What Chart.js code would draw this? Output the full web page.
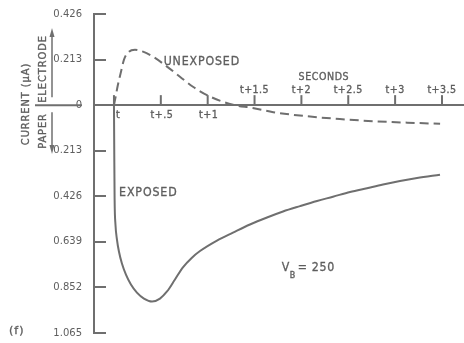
<!DOCTYPE html>
<html>
<head>
<meta charset="utf-8">
<script src="https://cdn.jsdelivr.net/npm/chart.js@4/dist/chart.umd.min.js"></script>
<style>
html,body{margin:0;padding:0;background:#fff;}
#wrap{width:464px;height:343px;position:relative;}
</style>
</head>
<body>
<div id="wrap"><canvas id="c"></canvas></div>
<script>
// ---- data (time in seconds after t, current in microamps; + = electrode, - = paper) ----
const timeUnexposed    = [0, 0.02, 0.04, 0.075, 0.107, 0.16, 0.224, 0.31, 0.416, 0.566, 0.704, 0.843, 1.025, 1.27, 1.48, 1.70, 2.06, 2.41, 2.76, 3.13, 3.48];
const currentUnexposed = [0, 0.044, 0.091, 0.156, 0.213, 0.25, 0.259, 0.25, 0.227, 0.18, 0.133, 0.086, 0.04, 0.002, -0.013, -0.033, -0.052, -0.065, -0.075, -0.082, -0.087];

const timeExposed    = [0, 0.003, 0.007, 0.016, 0.032, 0.053, 0.085, 0.128, 0.181, 0.245, 0.320, 0.406, 0.491, 0.566, 0.651, 0.736, 0.832, 0.918, 1.099, 1.270, 1.451, 1.633, 1.804, 1.985, 2.167, 2.337, 2.519, 2.700, 2.871, 3.052, 3.234, 3.479];
const currentExposed = [0, -0.208, -0.441, -0.558, -0.628, -0.684, -0.740, -0.792, -0.838, -0.876, -0.904, -0.918, -0.904, -0.871, -0.815, -0.758, -0.713, -0.682, -0.633, -0.596, -0.558, -0.525, -0.497, -0.472, -0.448, -0.428, -0.406, -0.388, -0.371, -0.355, -0.341, -0.325];

const yTickValues = [0.426, 0.213, 0, -0.213, -0.426, -0.639, -0.852, -1.065];
const xTickValues = [0, 0.5, 1, 1.5, 2, 2.5, 3, 3.5];
const xTickLabels = ['t', 't+.5', 't+1', 't+1.5', 't+2', 't+2.5', 't+3', 't+3.5'];

const seriesNames = ['UNEXPOSED', 'EXPOSED'];
const axisTitle = 'CURRENT (\u03BCA)';
const upLabel = 'ELECTRODE';
const downLabel = 'PAPER';
const xTitle = 'SECONDS';
const panelLabel = '(f)';

const INK = '#6f6f6f';
const TXT = '#5e5e5e';
const FONT = '"DejaVu Sans", sans-serif';

function pairs(xs, ys){ return xs.map((x,i)=>({x:x, y:ys[i]})); }

// condensed text helper
function ctext(ctx, txt, x, y, size, sx, spacing, align){
  ctx.save();
  ctx.font = size + 'px ' + FONT;
  ctx.letterSpacing = (spacing||0) + 'px';
  ctx.textAlign = align || 'left';
  ctx.textBaseline = 'middle';
  ctx.translate(x, y); ctx.scale(sx, 1);
  ctx.fillText(txt, 0, 0);
  ctx.strokeStyle = TXT; ctx.lineWidth = 0.35;
  ctx.strokeText(txt, 0, 0);
  ctx.restore();
}

const deco = {
  id: 'deco',
  afterDraw(chart){
    const ctx = chart.ctx, xs = chart.scales.x, ys = chart.scales.y;
    const y0 = ys.getPixelForValue(0);
    const ax = chart.chartArea.left;
    ctx.save();
    ctx.strokeStyle = INK; ctx.fillStyle = TXT; ctx.lineWidth = 2; ctx.lineCap = 'butt';
    // y ticks (inside)
    yTickValues.forEach(v=>{
      const p = Math.round(ys.getPixelForValue(v));
      ctx.beginPath(); ctx.moveTo(ax-1, p); ctx.lineTo(ax+12, p); ctx.stroke();
    });
    // x ticks (up)
    xTickValues.forEach(v=>{
      const p = xs.getPixelForValue(v);
      ctx.beginPath(); ctx.moveTo(p, y0); ctx.lineTo(p, y0-10); ctx.stroke();
    });
    // x tick labels
    xTickValues.forEach((v,i)=>{
      const p = xs.getPixelForValue(v);
      if (v < 1.5) {
        if (v === 0) ctext(ctx, xTickLabels[i], p+2, y0+10, 10, 0.95, 0.5, 'left');
        else ctext(ctx, xTickLabels[i], p+1, y0+10, 10, 0.95, 0.5, 'center');
      } else {
        ctext(ctx, xTickLabels[i], p, y0-15, 10, 0.95, 0.5, 'center');
      }
    });
    // SECONDS
    ctext(ctx, xTitle, xs.getPixelForValue(2.24), y0-28, 10, 0.95, 0.6, 'center');
    // series labels
    ctext(ctx, seriesNames[0], xs.getPixelForValue(0.53), ys.getPixelForValue(0.205), 13, 0.85, 1, 'left');
    ctext(ctx, seriesNames[1], xs.getPixelForValue(0.055), ys.getPixelForValue(-0.41), 13, 0.85, 1, 'left');
    // V_B = 250
    const vx = xs.getPixelForValue(1.79), vy = ys.getPixelForValue(-0.76);
    ctext(ctx, 'V', vx, vy, 13, 0.85, 0, 'left');
    ctext(ctx, 'B', vx+8, vy+8, 8, 1, 0, 'left');
    ctext(ctx, '= 250', vx+16, vy, 13, 0.85, 0.8, 'left');
    // panel label
    ctext(ctx, panelLabel, 9, ys.getPixelForValue(-1.058), 11, 1, 1, 'left');
    // separator line at zero level, left side
    ctx.beginPath(); ctx.moveTo(35, y0); ctx.lineTo(82, y0); ctx.stroke();
    // arrows
    ctx.lineWidth = 1.5;
    ctx.fillStyle = INK;
    ctx.beginPath(); ctx.moveTo(52, y0-8); ctx.lineTo(52, 33); ctx.stroke();
    ctx.beginPath(); ctx.moveTo(52, 28); ctx.lineTo(49.5, 37); ctx.lineTo(54.5, 37); ctx.closePath(); ctx.fill();
    ctx.beginPath(); ctx.moveTo(52, y0+7); ctx.lineTo(52, 148); ctx.stroke();
    ctx.beginPath(); ctx.moveTo(52, 154); ctx.lineTo(49.5, 145); ctx.lineTo(54.5, 145); ctx.closePath(); ctx.fill();
    // rotated titles
    ctx.fillStyle = TXT;
    const rot = (txt, x, y)=>{
      ctx.save(); ctx.translate(x, y); ctx.rotate(-Math.PI/2);
      ctext(ctx, txt, 0, 0, 11, 0.9, 1, 'center');
      ctx.restore();
    };
    rot(axisTitle, 26, 104);
    rot(upLabel, 43, 69);
    rot(downLabel, 43, 131);
    ctx.restore();
  }
};

new Chart(document.getElementById('c'), {
  type: 'line',
  data: {
    datasets: [
      { label: seriesNames[0], data: pairs(timeUnexposed, currentUnexposed), borderColor: INK, borderWidth: 2, borderDash: [9,5], pointRadius: 0, cubicInterpolationMode: 'monotone', fill: false },
      { label: seriesNames[1], data: pairs(timeExposed, currentExposed), borderColor: INK, borderWidth: 2, pointRadius: 0, cubicInterpolationMode: 'monotone', fill: false }
    ]
  },
  options: {
    responsive: true, maintainAspectRatio: false, animation: false,
    layout: { padding: { top: 14, bottom: 10, left: 0, right: 0 } },
    plugins: { legend: { display: false }, tooltip: { enabled: false } },
    scales: {
      x: {
        type: 'linear', position: { y: 0 }, min: -0.213, max: 3.735,
        grid: { display: false }, ticks: { display: false },
        border: { display: true, color: INK, width: 2 }
      },
      y: {
        type: 'linear', min: -1.065, max: 0.426,
        afterBuildTicks: (s)=>{ s.ticks = yTickValues.map(v=>({value:v})); },
        afterFit: (s)=>{ s.width = 94; },
        grid: { display: false },
        border: { display: true, color: INK, width: 2 },
        ticks: { color: TXT, padding: 4, font: { family: 'DejaVu Sans', size: 10 },
          callback: (v)=> v === 0 ? '0' : Math.abs(v).toFixed(3) }
      }
    }
  },
  plugins: [deco]
});
</script>
</body>
</html>
